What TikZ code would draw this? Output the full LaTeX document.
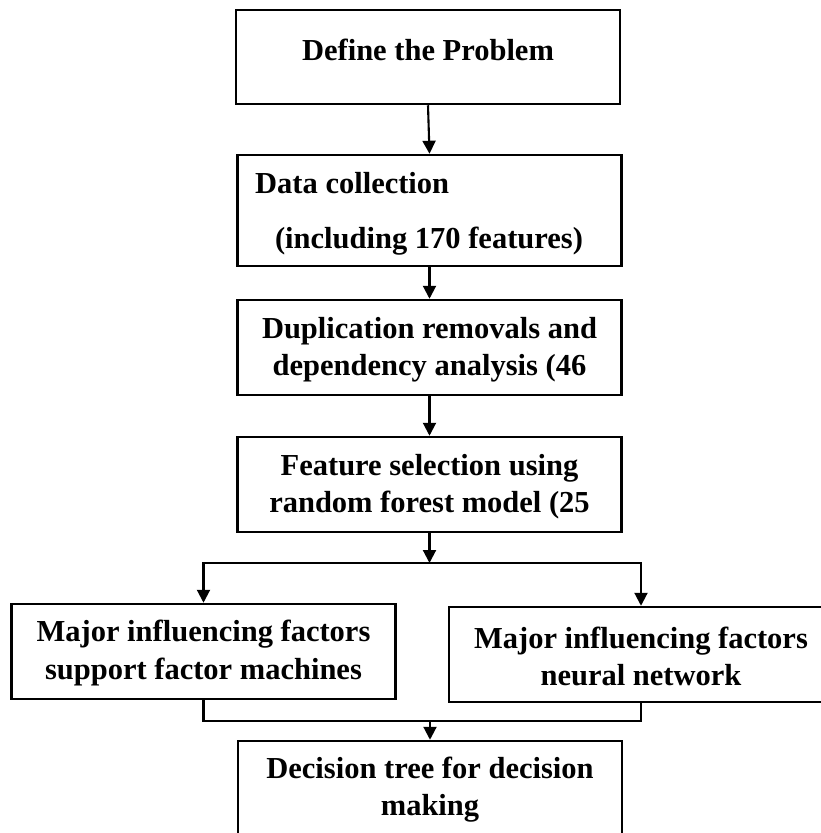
\documentclass[tikz,border=0pt]{standalone}
\usepackage{fontspec}
\setmainfont{Liberation Serif}
\usetikzlibrary{arrows.meta}
\begin{document}
\begin{tikzpicture}[x=1pt,y=-1pt,
  box/.style={draw,line width=2.5pt,minimum width=384pt,inner sep=0pt},
  txt/.style={font=\fontsize{30.5}{37}\selectfont\bfseries,align=center,inner sep=0pt},
  conn/.style={line width=2.1pt},
  arr/.style={conn,-{Triangle[length=13pt,width=13pt]}}]
\useasboundingbox (0,0) rectangle (821,833);
% boxes
\node[box,minimum height=94pt]  (b1) at (428,57) {};
\node[box,minimum height=111pt] (b2) at (429.5,210.5) {};
\node[box,minimum height=95pt]  (b3) at (429.5,347.5) {};
\node[box,minimum height=95pt]  (b4) at (429.5,484.5) {};
\node[box,minimum height=95pt]  (bl) at (203.5,651.5) {};
\node[box,minimum height=95pt]  (br) at (641,654.5) {};
\node[box,minimum height=120pt] (bb) at (430,801) {};
% texts
\node[txt,anchor=base] (t1) at (428,60) {Define the Problem};
\node[txt,anchor=base west] (t2a) at (255,193) {Data collection};
\node[txt,anchor=base] (t2b) at (429,248) {(including 170 features)};
\node[txt] (t3) at (429.5,349.5) {Duplication removals and\\dependency analysis (46};
\node[txt] (t4) at (429.5,486.5) {Feature selection using\\random forest model (25};
\node[txt] (tl) at (203.5,653) {Major influencing factors\\support factor machines};
\node[txt] (tr) at (641,656.5) {Major influencing factors\\neural network};
\node[txt] (tb) at (430,789.5) {Decision tree for decision\\making};
% connectors
\coordinate (sp) at (429.5,563);
\coordinate (mg) at (430,721);
\draw[arr] (b1.south) -- (b2.north);
\draw[arr] (b2.south) -- (b3.north);
\draw[arr] (b3.south) -- (b4.north);
\draw[arr] (b4.south) -- (sp);
\draw[arr] (sp) -| (bl.north);
\draw[arr] (sp) -| (br.north);
\draw[conn] (bl.south) |- (mg);
\draw[conn] (br.south) |- (mg);
\draw[arr] (mg) -- (bb.north);
\end{tikzpicture}
\end{document}
